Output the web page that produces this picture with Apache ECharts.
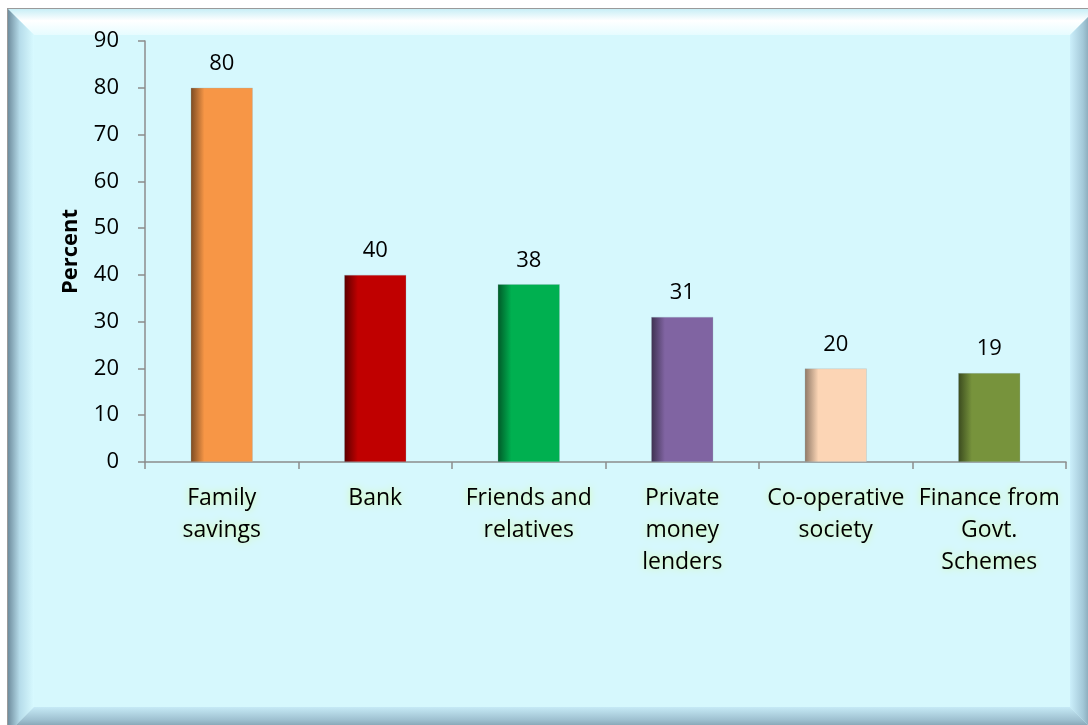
<!DOCTYPE html>
<html>
<head>
<meta charset="utf-8">
<script src="https://cdn.jsdelivr.net/npm/echarts@6/dist/echarts.min.js"></script>
<style>
  html, body { margin: 0; padding: 0; background: #ffffff; }
  #chart { width: 1088px; height: 725px; }
</style>
</head>
<body>
<div id="chart"></div>
<script>
// Sources of finance (percent of respondents)
var categories = ['Family\nsavings', 'Bank', 'Friends and\nrelatives', 'Private\nmoney\nlenders', 'Co-operative\nsociety', 'Finance from\nGovt.\nSchemes'];
var values = [80, 40, 38, 31, 20, 19];
var barColors = ['#F79646', '#C00000', '#00B050', '#8064A2', '#FCD5B5', '#77933C'];
var shadeColors = ['#7A4A22', '#5A0000', '#005A28', '#3E3150', '#8E7866', '#3A4A1E'];
var yTicks = [0, 10, 20, 30, 40, 50, 60, 70, 80, 90];

var FONT = '"Open Sans", Lato, sans-serif';
var L = 8, T = 9, R = 1096, B = 733, BV = 26;

function grad(x, y, x2, y2, stops) {
  return new echarts.graphic.LinearGradient(x, y, x2, y2, stops);
}

var chart = echarts.init(document.getElementById('chart'), null, { renderer: 'canvas' });

var barData = values.map(function (v, i) {
  return {
    value: v,
    itemStyle: {
      color: grad(0, 0, 1, 0, [
        { offset: 0, color: shadeColors[i] },
        { offset: 0.22, color: barColors[i] },
        { offset: 1, color: barColors[i] }
      ])
    }
  };
});

chart.setOption({
  backgroundColor: '#ffffff',
  animation: false,
  graphic: [
    { type: 'rect', z: -10, shape: { x: L - 1, y: T - 1, width: R - L + 2, height: B - T + 2 }, style: { fill: '#9a9a9a' } },
    { type: 'rect', z: -9, shape: { x: L, y: T, width: R - L, height: B - T }, style: { fill: '#D6F8FD' } },
    // top bevel
    { type: 'polygon', z: -8, shape: { points: [[L, T], [R, T], [R - BV, T + BV], [L + BV, T + BV]] },
      style: { fill: grad(0, 0, 0, 1, [{ offset: 0, color: '#C8EEF6' }, { offset: 0.45, color: '#FFFFFF' }, { offset: 1, color: '#E6FCFF' }]) } },
    // left bevel
    { type: 'polygon', z: -8, shape: { points: [[L, T], [L + BV, T + BV], [L + BV, B - BV], [L, B]] },
      style: { fill: grad(0, 0, 1, 0, [{ offset: 0, color: '#6F8D9E' }, { offset: 0.45, color: '#B6DCEA' }, { offset: 1, color: '#D8FAFF' }]) } },
    // right bevel
    { type: 'polygon', z: -8, shape: { points: [[R, T], [R, B], [R - BV, B - BV], [R - BV, T + BV]] },
      style: { fill: grad(0, 0, 1, 0, [{ offset: 0, color: '#CBEFFB' }, { offset: 0.5, color: '#A4C8D8' }, { offset: 1, color: '#6D8898' }]) } },
    // bottom bevel
    { type: 'polygon', z: -8, shape: { points: [[L, B], [L + BV, B - BV], [R - BV, B - BV], [R, B]] },
      style: { fill: grad(0, 0, 0, 1, [{ offset: 0, color: '#C6EAF6' }, { offset: 0.5, color: '#9EC0D0' }, { offset: 1, color: '#6A8494' }]) } }
  ],
  grid: { left: 145, right: 22, top: 41, bottom: 263, containLabel: false },
  xAxis: {
    type: 'category',
    data: categories,
    axisLine: { lineStyle: { color: '#8C8C8C', width: 1.5 } },
    axisTick: { show: true, length: 7, lineStyle: { color: '#8C8C8C', width: 1.5 } },
    axisLabel: {
      interval: 0,
      margin: 20,
      color: '#000000',
      fontFamily: FONT,
      fontSize: 23,
      lineHeight: 32,
      textShadowColor: '#D8FF98',
      textShadowBlur: 7
    }
  },
  yAxis: {
    type: 'value',
    min: yTicks[0],
    max: yTicks[yTicks.length - 1],
    interval: 10,
    name: 'Percent',
    nameLocation: 'middle',
    nameGap: 63,
    nameRotate: 90,
    nameTextStyle: { color: '#000000', fontFamily: FONT, fontSize: 22, fontWeight: 'bold' },
    splitLine: { show: false },
    axisLine: { show: true, lineStyle: { color: '#8C8C8C', width: 1.5 } },
    axisTick: { show: true, length: 7, lineStyle: { color: '#8C8C8C', width: 1.5 } },
    axisLabel: { margin: 26, color: '#000000', fontFamily: FONT, fontSize: 22 }
  },
  series: [{
    type: 'bar',
    data: barData,
    barWidth: 62,
    itemStyle: { borderColor: 'rgba(150,180,190,0.6)', borderWidth: 0.5 },
    label: {
      show: true,
      position: 'top',
      distance: 13,
      color: '#000000',
      fontFamily: FONT,
      fontSize: 22
    }
  }]
});
</script>
</body>
</html>
